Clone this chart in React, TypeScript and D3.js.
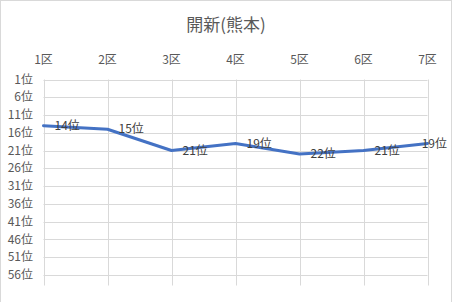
import React from "react";
import * as d3 from "d3";

const categories = ["1区", "2区", "3区", "4区", "5区", "6区", "7区"];
const ranks = [14, 15, 21, 19, 22, 21, 19];
const yTicks = [1, 6, 11, 16, 21, 26, 31, 36, 41, 46, 51, 56];
const title = "開新(熊本)";

const W = 453;
const H = 302;
const FONT = "'Noto Sans CJK JP', 'Noto Sans', sans-serif";

export default function App() {
  const left = 43.5;
  const right = 427.5;
  const top = 79.5;
  const bottom = 285.5;
  const x = d3.scalePoint<string>().domain(categories).range([left, right]);
  const y = d3.scaleLinear().domain([1, 59]).range([top, bottom]);
  const line = d3
    .line<number>()
    .x((_, i) => x(categories[i]) as number)
    .y((d) => y(d));

  return (
    <div style={{ position: "absolute", left: 0, top: 0 }}>
      <svg width={W} height={H} style={{ display: "block", fontFamily: FONT }}>
        <rect x={0} y={0} width={W} height={H} fill="#fff" />
        <rect x={0.5} y={0.5} width={451} height={320} fill="none" stroke="#d9d9d9" />
        <text x={226} y={31} textAnchor="middle" fontSize={17} fill="#595959">
          {title}
        </text>
        {yTicks.map((t) => (
          <line key={"h" + t} x1={left} x2={right} y1={Math.round(y(t)) + 0.5} y2={Math.round(y(t)) + 0.5} stroke="#d9d9d9" strokeWidth={1} />
        ))}
        {categories.map((c) => (
          <line key={"v" + c} x1={Math.round(x(c) as number) + 0.5} x2={Math.round(x(c) as number) + 0.5} y1={top} y2={bottom} stroke="#d9d9d9" strokeWidth={1} />
        ))}
        {categories.map((c) => (
          <text key={"c" + c} x={x(c)} y={60} dy="0.35em" textAnchor="middle" fontSize={12} fill="#595959">
            {c}
          </text>
        ))}
        {yTicks.map((t) => (
          <text key={"t" + t} x={33} y={y(t)} dy="0.35em" textAnchor="end" fontSize={12} fill="#595959">
            {t}位
          </text>
        ))}
        <path d={line(ranks) || ""} fill="none" stroke="#4472C4" strokeWidth={3} strokeLinejoin="round" strokeLinecap="round" />
        {ranks.map((r, i) => {
          const px = x(categories[i]) as number;
          const last = i === ranks.length - 1;
          return (
            <text
              key={"l" + i}
              x={last ? 447 : px + 11}
              y={y(r)}
              dy="0.35em"
              textAnchor={last ? "end" : "start"}
              fontSize={12}
              fill="#404040"
            >
              {r}位
            </text>
          );
        })}
      </svg>
    </div>
  );
}
